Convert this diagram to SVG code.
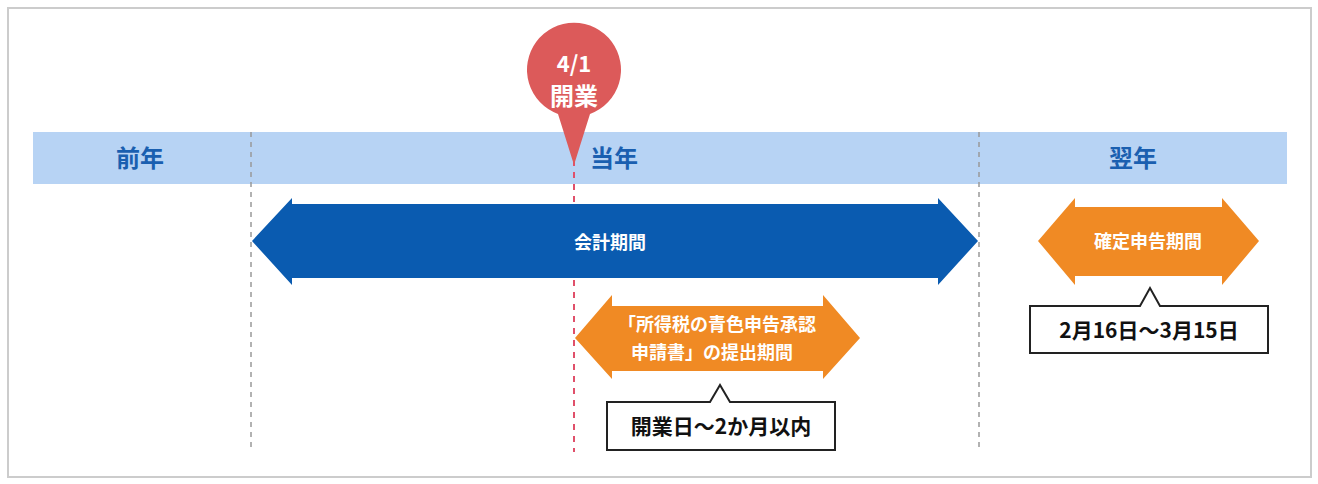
<svg xmlns="http://www.w3.org/2000/svg" width="1318" height="484" viewBox="0 0 1318 484">
<style>
text{font-family:"Noto Sans CJK JP","Noto Sans",sans-serif;font-weight:bold;text-anchor:middle}
.yr{fill:#1a5fb0;font-size:24px}
.w{fill:#fff;font-size:18px}
.b{fill:#111;font-size:21px}
.box{fill:#fff;stroke:#222;stroke-width:2}
.dg{stroke:#999;stroke-width:1.5;stroke-dasharray:5,5}
</style>
<rect x="0" y="0" width="1318" height="484" fill="#fff"/>
<rect x="8" y="8" width="1303" height="469" fill="none" stroke="#ccc" stroke-width="2"/>
<g id="band">
<rect x="33" y="132" width="1254" height="52" fill="#b7d3f4"/>
<text class="yr" x="140" y="167">前年</text>
<text class="yr" x="614" y="167">当年</text>
<text class="yr" x="1133" y="167">翌年</text>
</g>
<g id="connectors">
<line class="dg" x1="251" y1="132" x2="251" y2="452"/>
<line class="dg" x1="979" y1="132" x2="979" y2="452"/>
<line x1="574" y1="160" x2="574" y2="452" stroke="#e0506a" stroke-width="2" stroke-dasharray="6,6"/>
</g>
<g id="pin">
<path d="M574,165 L558,114 A47,47 0 1 1 590,114 Z" fill="#dc5a5a"/>
<text x="574" y="72" fill="#fff" font-size="22">4/1</text>
<text x="574" y="105" fill="#fff" font-size="24">開業</text>
</g>
<g id="kaikei">
<path d="M252,241 L292,198 L292,204 L938,204 L938,198 L978,241 L938,285 L938,278 L292,278 L292,285 Z" fill="#0a5bb0"/>
<text class="w" x="610" y="249">会計期間</text>
</g>
<g id="aoiro">
<path d="M575,338 L612,295 L612,306 L823,306 L823,295 L860,338 L823,379 L823,371 L612,371 L612,379 Z" fill="#f08a24"/>
<text class="w" x="717" y="331">「所得税の青色申告承認</text>
<text class="w" x="712" y="359">申請書」の提出期間</text>
</g>
<g id="kaikei-note">
<path class="box" d="M607,402 L710,402 L720,385 L730,402 L835,402 L835,450 L607,450 Z"/>
<text class="b" x="721" y="434">開業日～2か月以内</text>
</g>
<g id="kakutei">
<path d="M1038,241 L1075,198 L1075,207 L1222,207 L1222,198 L1259,241 L1222,285 L1222,276 L1075,276 L1075,285 Z" fill="#f08a24"/>
<text class="w" x="1148" y="248">確定申告期間</text>
</g>
<g id="kakutei-note">
<path class="box" d="M1030,306 L1140,306 L1150,288 L1160,306 L1268,306 L1268,353 L1030,353 Z"/>
<text class="b" x="1149" y="338">2月16日～3月15日</text>
</g>
</svg>
